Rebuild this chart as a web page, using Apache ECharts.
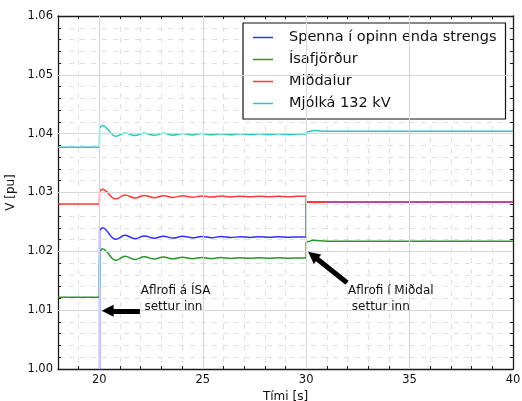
<!DOCTYPE html>
<html>
<head>
<meta charset="utf-8">
<script src="https://cdn.jsdelivr.net/npm/echarts@6/dist/echarts.min.js"></script>
<style>
  html, body { margin: 0; padding: 0; background: #fff; }
  #chart { width: 522px; height: 401px; }
</style>
</head>
<body>
<div id="chart"></div>
<script>
// Voltage response [pu] after switching, time in seconds.
const seriesNames = ['Spenna í opinn enda strengs', 'Ísafjörður', 'Miðdalur', 'Mjólká 132 kV'];
const xTickLabels = [20, 25, 30, 35, 40];
const yTickLabels = [1.00, 1.01, 1.02, 1.03, 1.04, 1.05, 1.06];

// Open-end cable voltage (zero before breaker closes at t = 20 s)
const spenna = [
  [18, 0], [20, 0], [20.01, 1.0236], [20.14, 1.0240], [20.79, 1.02204],
  [21.24, 1.02272], [21.72, 1.02215], [22.17, 1.02262], [22.65, 1.02222],
  [23.09, 1.02258], [23.57, 1.02226], [24.02, 1.02255], [24.5, 1.02229],
  [24.95, 1.02253], [25.43, 1.02232], [25.88, 1.02251], [26.36, 1.02234],
  [26.81, 1.02249], [27.29, 1.02236], [27.74, 1.02248], [28.22, 1.02238],
  [28.67, 1.02247], [29.15, 1.02239], [29.6, 1.02245], [30, 1.02243],
  [30, 1.0284], [40, 1.0284]
];

const isafjordur = [
  [18, 1.0122], [20, 1.0122], [20.01, 1.0200], [20.14, 1.02045], [20.79, 1.01847],
  [21.24, 1.01915], [21.72, 1.01862], [22.17, 1.01908], [22.65, 1.01868],
  [23.09, 1.01903], [23.57, 1.01872], [24.02, 1.01900], [24.5, 1.01875],
  [24.95, 1.01897], [25.43, 1.01877], [25.88, 1.01895], [26.36, 1.01879],
  [26.81, 1.01893], [27.29, 1.01881], [27.74, 1.01891], [28.22, 1.01882],
  [28.67, 1.01890], [29.15, 1.01883], [29.6, 1.01888], [30, 1.01886],
  [30, 1.0216], [30.35, 1.02188], [31.0, 1.02172], [40, 1.02172]
];

const midalur = [
  [18, 1.02804], [20, 1.02804], [20.01, 1.0302], [20.14, 1.03054], [20.79, 1.0289],
  [21.24, 1.02957], [21.72, 1.02906], [22.17, 1.02950], [22.65, 1.02912],
  [23.09, 1.02946], [23.57, 1.02916], [24.02, 1.02943], [24.5, 1.02919],
  [24.95, 1.02941], [25.43, 1.02922], [25.88, 1.02939], [26.36, 1.02924],
  [26.81, 1.02938], [27.29, 1.02926], [27.74, 1.02937], [28.22, 1.02928],
  [28.67, 1.02936], [29.15, 1.02929], [29.6, 1.02935], [30, 1.02935],
  [30, 1.0284], [30.5, 1.02828], [31.2, 1.02842], [40, 1.02842]
];

const mjolka = [
  [18, 1.0377], [20, 1.0377], [20.01, 1.0410], [20.14, 1.0414], [20.79, 1.03955],
  [21.24, 1.04012], [21.72, 1.03968], [22.17, 1.04008], [22.65, 1.03972],
  [23.09, 1.04005], [23.57, 1.03975], [24.02, 1.04003], [24.5, 1.03978],
  [24.95, 1.04001], [25.43, 1.0398], [25.88, 1.04], [26.36, 1.03982],
  [26.81, 1.03999], [27.29, 1.03984], [27.74, 1.03998], [28.22, 1.03985],
  [28.67, 1.03997], [29.15, 1.03986], [29.6, 1.03995], [30, 1.03993],
  [30, 1.0403], [30.4, 1.04052], [31.0, 1.0404], [40, 1.0404]
];

const seriesData = [spenna, isafjordur, midalur, mjolka];
const seriesColors = ['#3030ff', '#2a962a', '#ff3b3b', '#2ec4c4'];

// Annotation arrows (tail -> head) and their captions, in data coordinates
const arrowSegments = [
  [[21.96, 1.0099], [20.40, 1.0099]],
  [[31.976, 1.01467], [30.32, 1.0193]]
];
const noteTexts = ['Aflrofi á ÍSA\n settur inn', 'Aflrofi í Miðdal\n settur inn'];
const notePositions = [[21.995, 1.0119], [32.02, 1.0119]];

const FONT = 'DejaVu Sans';
const AXIS_COLOR = '#1a1a1a';
// Thin horizontal bar used as the legend line sample
const LEGEND_LINE = 'path://M0,0H40V3H0Z';

const chart = echarts.init(document.getElementById('chart'), null, { renderer: 'canvas' });

const lineSeries = seriesNames.map((name, i) => ({
  name: name,
  type: 'line',
  data: seriesData[i],
  xAxisIndex: 0,
  yAxisIndex: 0,
  symbol: 'none',
  smooth: 0.4,
  smoothMonotone: 'x',
  lineStyle: { color: seriesColors[i], width: 1.5 },
  itemStyle: { color: seriesColors[i] },
  z: 2
}));

// Major grid lines drawn as data-space mark lines
const majorGrid = [];
xTickLabels.slice(0, -1).forEach(v => majorGrid.push({ xAxis: v }));
yTickLabels.slice(1, -1).forEach(v => majorGrid.push({ yAxis: v }));

const gridSeries = {
  name: 'grid',
  type: 'line',
  data: [],
  xAxisIndex: 0,
  yAxisIndex: 0,
  z: 1,
  silent: true,
  markLine: {
    silent: true,
    symbol: ['none', 'none'],
    label: { show: false },
    lineStyle: { color: '#d6d6d6', width: 1, type: 'solid' },
    data: majorGrid,
    animation: false
  }
};

const noteSeries = {
  name: 'notes',
  type: 'line',
  data: [],
  xAxisIndex: 0,
  yAxisIndex: 0,
  z: 5,
  silent: true,
  markLine: {
    silent: true,
    symbol: ['none', 'triangle'],
    symbolSize: 12,
    label: { show: false },
    lineStyle: { color: '#000', width: 5, type: 'solid' },
    itemStyle: { color: '#000' },
    data: arrowSegments.map(seg => [{ coord: seg[0] }, { coord: seg[1] }]),
    animation: false
  },
  markPoint: {
    silent: true,
    symbol: 'circle',
    symbolSize: 0.1,
    itemStyle: { color: 'rgba(0,0,0,0)' },
    label: {
      show: true,
      position: 'right',
      distance: 0,
      color: '#111',
      fontFamily: FONT,
      fontSize: 12,
      lineHeight: 16.5,
      align: 'left'
    },
    data: notePositions.map((p, i) => ({
      coord: p,
      label: { formatter: noteTexts[i] }
    })),
    animation: false
  }
};

const option = {
  animation: false,
  backgroundColor: '#fff',
  grid: { left: 58, right: 9, top: 16, bottom: 32, containLabel: false, outerBoundsMode: 'none' },
  legend: {
    data: seriesNames.map(n => ({ name: n, icon: LEGEND_LINE })),
    orient: 'vertical',
    left: 243,
    top: 23,
    padding: [7, 9, 8, 10],
    itemGap: 7,
    itemWidth: 20,
    itemHeight: 14,
    symbolKeepAspect: true,
    backgroundColor: '#fff',
    borderColor: '#111',
    borderWidth: 1.2,
    borderRadius: 0,
    selectedMode: false,
    textStyle: {
      fontFamily: FONT,
      fontSize: 14.5,
      color: '#111',
      padding: [0, 0, 0, 11]
    }
  },
  xAxis: [
    {
      type: 'value',
      min: 18,
      max: 40,
      interval: 1,
      position: 'bottom',
      name: 'Tími [s]',
      nameLocation: 'middle',
      nameGap: 19,
      nameTextStyle: { fontFamily: FONT, fontSize: 12, color: '#111' },
      axisLine: { show: true, onZero: false, lineStyle: { color: AXIS_COLOR, width: 1.3 } },
      axisTick: { show: true, inside: true, length: 3, lineStyle: { color: AXIS_COLOR } },
      axisLabel: {
        fontFamily: FONT, fontSize: 11.5, color: '#111', margin: 5,
        formatter: v => (xTickLabels.indexOf(v) >= 0 ? String(v) : '')
      },
      splitLine: { show: true, lineStyle: { color: '#e0e0e0', width: 1, type: [5, 6] } }
    },
    {
      type: 'value',
      min: 18,
      max: 40,
      interval: 1,
      position: 'top',
      axisLine: { show: true, onZero: false, lineStyle: { color: AXIS_COLOR, width: 1.3 } },
      axisTick: { show: true, inside: true, length: 3, lineStyle: { color: AXIS_COLOR } },
      axisLabel: { show: false },
      splitLine: { show: false }
    }
  ],
  yAxis: [
    {
      type: 'value',
      min: 1.00,
      max: 1.06,
      interval: 0.01,
      position: 'left',
      name: 'V [pu]',
      nameLocation: 'middle',
      nameGap: 36,
      nameRotate: 90,
      nameTextStyle: { fontFamily: FONT, fontSize: 12, color: '#111' },
      axisLine: { show: true, onZero: false, lineStyle: { color: AXIS_COLOR, width: 1.3 } },
      axisTick: { show: true, inside: true, length: 5, lineStyle: { color: AXIS_COLOR } },
      minorTick: { show: true, splitNumber: 5, length: 3, lineStyle: { color: AXIS_COLOR } },
      axisLabel: {
        fontFamily: FONT, fontSize: 11.5, color: '#111', margin: 5,
        formatter: v => v.toFixed(2)
      },
      splitLine: { show: false },
      minorSplitLine: { show: true, lineStyle: { color: '#e0e0e0', width: 1, type: [5, 6] } }
    },
    {
      type: 'value',
      min: 1.00,
      max: 1.06,
      interval: 0.01,
      position: 'right',
      axisLine: { show: true, onZero: false, lineStyle: { color: AXIS_COLOR, width: 1.3 } },
      axisTick: { show: true, inside: true, length: 5, lineStyle: { color: AXIS_COLOR } },
      minorTick: { show: true, splitNumber: 5, length: 3, lineStyle: { color: AXIS_COLOR } },
      axisLabel: { show: false },
      splitLine: { show: false }
    }
  ],
  series: [gridSeries].concat(lineSeries, [noteSeries])
};

chart.setOption(option);
</script>
</body>
</html>
